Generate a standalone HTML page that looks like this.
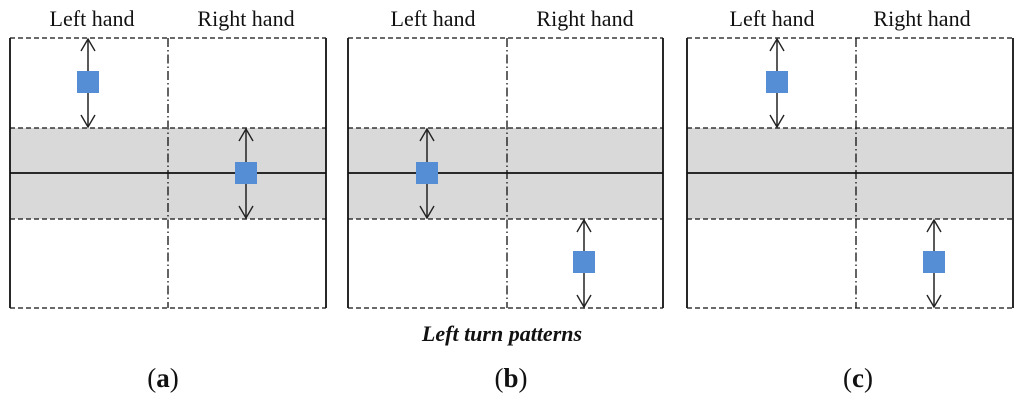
<!DOCTYPE html>
<html><head><style>
html,body{margin:0;padding:0;background:#fff;width:1024px;height:400px;overflow:hidden}
</style></head><body>
<svg width="1024" height="400" xmlns="http://www.w3.org/2000/svg" font-family="Liberation Serif, serif">
<defs>
<g id="ah"><path d="M-7,12 L0,0 L7,12" fill="none" stroke="#222" stroke-width="1.4"/></g>
</defs>
<g>
<rect x="10" y="128" width="316" height="91" fill="#d9d9d9"/>
<line x1="10" y1="173" x2="326" y2="173" stroke="#111" stroke-width="1.8"/>
<g stroke="#111" stroke-width="1.3" stroke-dasharray="5,3" fill="none">
<line x1="10" y1="38" x2="326" y2="38"/><line x1="10" y1="308" x2="326" y2="308"/>
<line x1="10" y1="128" x2="326" y2="128"/><line x1="10" y1="219" x2="326" y2="219"/>
</g>
<line x1="168" y1="38" x2="168" y2="308" stroke="#111" stroke-width="1.3" stroke-dasharray="9,3,1.5,3"/>
<line x1="10" y1="38" x2="10" y2="308" stroke="#111" stroke-width="1.8"/>
<line x1="326" y1="38" x2="326" y2="308" stroke="#111" stroke-width="1.8"/>
</g>
<g>
<rect x="348" y="128" width="315" height="91" fill="#d9d9d9"/>
<line x1="348" y1="173" x2="663" y2="173" stroke="#111" stroke-width="1.8"/>
<g stroke="#111" stroke-width="1.3" stroke-dasharray="5,3" fill="none">
<line x1="348" y1="38" x2="663" y2="38"/><line x1="348" y1="308" x2="663" y2="308"/>
<line x1="348" y1="128" x2="663" y2="128"/><line x1="348" y1="219" x2="663" y2="219"/>
</g>
<line x1="507" y1="38" x2="507" y2="308" stroke="#111" stroke-width="1.3" stroke-dasharray="9,3,1.5,3"/>
<line x1="348" y1="38" x2="348" y2="308" stroke="#111" stroke-width="1.8"/>
<line x1="663" y1="38" x2="663" y2="308" stroke="#111" stroke-width="1.8"/>
</g>
<g>
<rect x="687" y="128" width="326" height="91" fill="#d9d9d9"/>
<line x1="687" y1="173" x2="1013" y2="173" stroke="#111" stroke-width="1.8"/>
<g stroke="#111" stroke-width="1.3" stroke-dasharray="5,3" fill="none">
<line x1="687" y1="38" x2="1013" y2="38"/><line x1="687" y1="308" x2="1013" y2="308"/>
<line x1="687" y1="128" x2="1013" y2="128"/><line x1="687" y1="219" x2="1013" y2="219"/>
</g>
<line x1="856" y1="38" x2="856" y2="308" stroke="#111" stroke-width="1.3" stroke-dasharray="9,3,1.5,3"/>
<line x1="687" y1="38" x2="687" y2="308" stroke="#111" stroke-width="1.8"/>
<line x1="1013" y1="38" x2="1013" y2="308" stroke="#111" stroke-width="1.8"/>
</g>
<g stroke="#222" stroke-width="1.5">
<line x1="88" y1="39" x2="88" y2="127"/>
<line x1="246" y1="129" x2="246" y2="218"/>
<line x1="427" y1="129" x2="427" y2="218"/>
<line x1="584" y1="220" x2="584" y2="307"/>
<line x1="777" y1="39" x2="777" y2="127"/>
<line x1="934" y1="220" x2="934" y2="307"/>
</g>
<use href="#ah" x="88" y="39"/><use href="#ah" transform="translate(88,127) scale(1,-1)"/>
<use href="#ah" x="246" y="129"/><use href="#ah" transform="translate(246,218) scale(1,-1)"/>
<use href="#ah" x="427" y="129"/><use href="#ah" transform="translate(427,218) scale(1,-1)"/>
<use href="#ah" x="584" y="220"/><use href="#ah" transform="translate(584,307) scale(1,-1)"/>
<use href="#ah" x="777" y="39"/><use href="#ah" transform="translate(777,127) scale(1,-1)"/>
<use href="#ah" x="934" y="220"/><use href="#ah" transform="translate(934,307) scale(1,-1)"/>
<g fill="#558ed5">
<rect x="77" y="71" width="22" height="22"/>
<rect x="235" y="162" width="22" height="22"/>
<rect x="416" y="162" width="22" height="22"/>
<rect x="573" y="251" width="22" height="22"/>
<rect x="766" y="71" width="22" height="22"/>
<rect x="923" y="251" width="22" height="22"/>
</g>
<g font-size="22" fill="#111" text-anchor="middle">
<text x="92" y="26">Left hand</text><text x="246" y="26">Right hand</text>
<text x="433" y="26">Left hand</text><text x="585" y="26">Right hand</text>
<text x="772" y="26">Left hand</text><text x="922" y="26">Right hand</text>
</g>
<text x="502" y="341" text-anchor="middle" font-size="22" font-weight="bold" font-style="italic" fill="#111">Left turn patterns</text>
<g font-size="27" fill="#111" text-anchor="middle">
<text x="163" y="387">(<tspan font-weight="bold">a</tspan>)</text>
<text x="511" y="387">(<tspan font-weight="bold">b</tspan>)</text>
<text x="858" y="387">(<tspan font-weight="bold">c</tspan>)</text>
</g>
</svg>
</body></html>
